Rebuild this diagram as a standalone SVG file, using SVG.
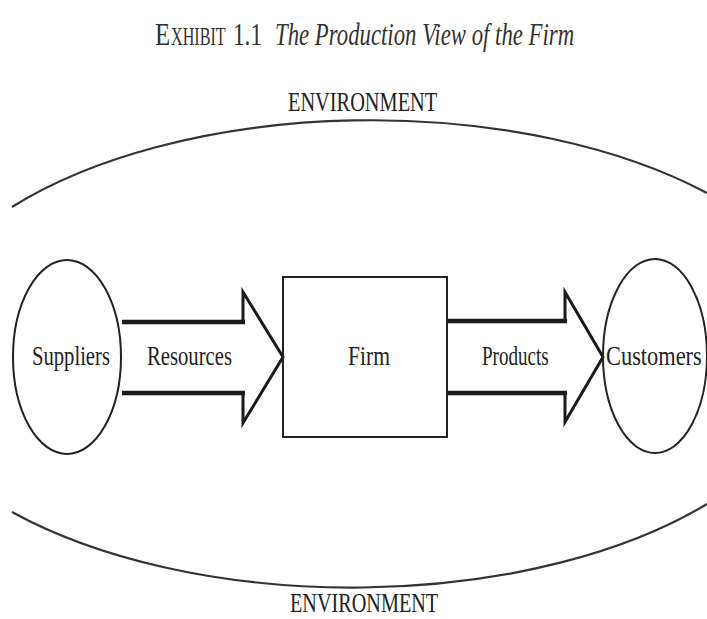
<svg xmlns="http://www.w3.org/2000/svg" width="707" height="619" viewBox="0 0 707 619">
<style>
.t{font-family:"Liberation Serif","Times New Roman",serif;fill:#222;font-size:28px;}
.ti{font-family:"Liberation Serif","Times New Roman",serif;fill:#333;font-size:31px;}
.sc{font-size:25px;}
.node{fill:none;stroke:#222;stroke-width:2;}
.shaft{fill:none;stroke:#1a1a1a;stroke-width:4.5;}
.head{fill:none;stroke:#1a1a1a;stroke-width:3;stroke-linejoin:miter;}
.arc{fill:none;stroke:#333;stroke-width:2.2;}
</style>
<rect width="707" height="619" fill="#fff"/>
<g id="title">
<text class="ti" transform="translate(155,45) scale(0.8,1)">E</text>
<text class="ti sc" transform="translate(171,45) scale(0.645,1)">XHIBIT</text>
<text class="ti" transform="translate(233,45) scale(0.75,1)">1.1</text>
<text class="ti" font-style="italic" transform="translate(275,45) scale(0.735,1)">The Production View of the Firm</text>
</g>
<g id="environment">
<path class="arc" d="M12,207 A462 233 0 0 1 707,193"/>
<path class="arc" d="M12,512 A462 233 0 0 0 707,504"/>
<text class="t" transform="translate(288,111) scale(0.727,1)">ENVIRONMENT</text>
<text class="t" transform="translate(290,612) scale(0.722,1)">ENVIRONMENT</text>
</g>
<g id="connectors">
<g id="resources">
<line class="shaft" x1="122" y1="322" x2="245" y2="322"/>
<line class="shaft" x1="122" y1="393" x2="245" y2="393"/>
<polyline class="head" points="243,324 243,292 283,357 243,423 243,391"/>
<text class="t" transform="translate(147,365) scale(0.739,1)">Resources</text>
</g>
<g id="products">
<line class="shaft" x1="447" y1="321" x2="567" y2="321"/>
<line class="shaft" x1="447" y1="393" x2="567" y2="393"/>
<polyline class="head" points="565,323 565,292 603,357 565,422 565,391"/>
<text class="t" transform="translate(482,365) scale(0.68,1)">Products</text>
</g>
</g>
<g id="suppliers">
<ellipse class="node" cx="67" cy="357" rx="54" ry="97"/>
<text class="t" transform="translate(32,365) scale(0.737,1)">Suppliers</text>
</g>
<g id="firm">
<rect class="node" x="283" y="277" width="164" height="160"/>
<text class="t" transform="translate(348,365) scale(0.77,1)">Firm</text>
</g>
<g id="customers">
<ellipse class="node" cx="655" cy="356" rx="52" ry="97"/>
<text class="t" transform="translate(606,365) scale(0.8,1)">Customers</text>
</g>
</svg>
